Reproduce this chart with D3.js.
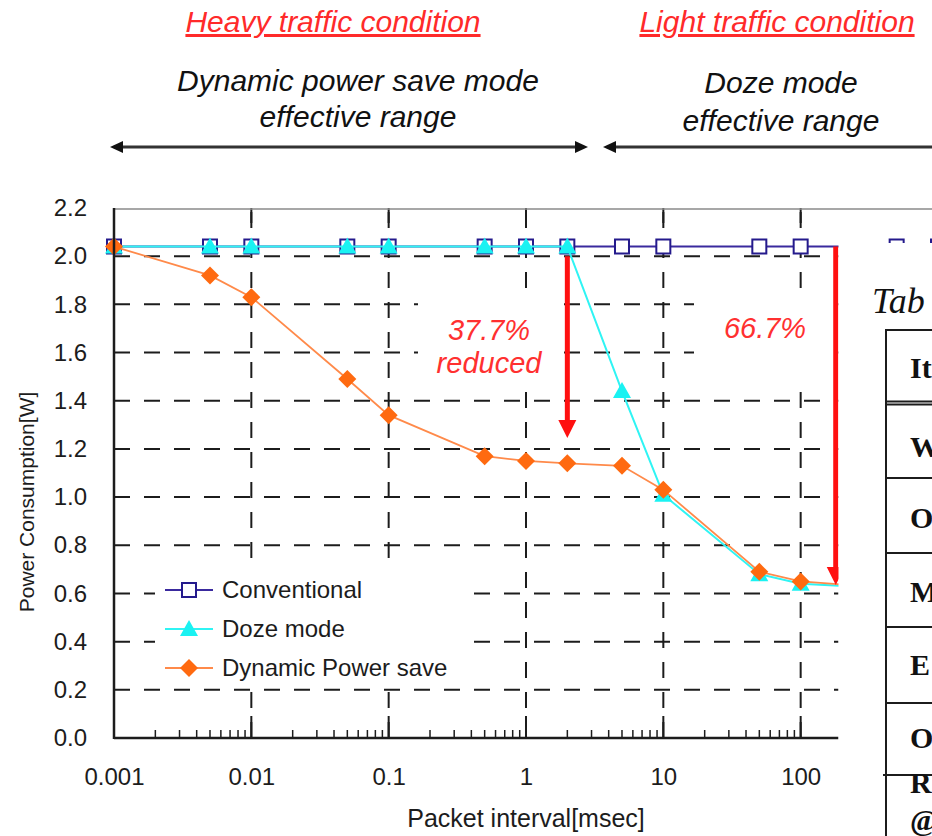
<!DOCTYPE html>
<html>
<head>
<meta charset="utf-8">
<script src="https://cdn.jsdelivr.net/npm/d3@7"></script>
<style>
  html, body { margin: 0; padding: 0; background: #fff; }
  svg { display: block; }
</style>
</head>
<body>
<div id="chart"></div>
<script>
// Data
const packetIntervals = [0.001, 0.005, 0.01, 0.05, 0.1, 0.5, 1, 2, 5, 10, 50, 100, 500, 1000];
const conventional = [2.04, 2.04, 2.04, 2.04, 2.04, 2.04, 2.04, 2.04, 2.04, 2.04, 2.04, 2.04, 2.04, 2.04];
const dozeMode = [2.04, 2.04, 2.04, 2.04, 2.04, 2.04, 2.04, 2.04, 1.44, 1.01, 0.68, 0.64, 0.62, 0.62];
const dynamicPowerSave = [2.04, 1.92, 1.83, 1.49, 1.34, 1.17, 1.15, 1.14, 1.13, 1.03, 0.69, 0.65, 0.62, 0.62];

const seriesNames = ['Conventional', 'Doze mode', 'Dynamic Power save'];
const xTickValues = [0.001, 0.01, 0.1, 1, 10, 100];
const xTickLabels = ['0.001', '0.01', '0.1', '1', '10', '100'];
const yTickValues = [0, 0.2, 0.4, 0.6, 0.8, 1.0, 1.2, 1.4, 1.6, 1.8, 2.0, 2.2];

const headers = ['Heavy traffic condition', 'Light traffic condition'];
const rangeLabels = [['Dynamic power save mode', 'effective range'], ['Doze mode', 'effective range']];
const reductions = [['37.7%', 'reduced'], ['66.7%']];
// only the part of the neighbouring table that is visible in the crop
const tableTitle = 'Tab';
const tableRowLabels = ['It', 'W', 'O', 'M', 'E', 'O', 'R', '@'];

const width = 932, height = 836;
const margin = { left: 114, top: 208, bottom: 738 };
const cutX = 838.5; // right part of the figure is covered by the table

const sans = '"Liberation Sans", Arial, sans-serif';
const serif = '"Liberation Serif", "Times New Roman", serif';
const ink = '#1c1c1c';

const svg = d3.select('#chart').append('svg')
  .attr('width', width)
  .attr('height', height)
  .attr('viewBox', `0 0 ${width} ${height}`);

// Scales
const x = d3.scaleLog().domain([0.001, 1000]).range([margin.left, 938]);
const y = d3.scaleLinear().domain([0, 2.2]).range([margin.bottom, margin.top]);

// Headers
const headerX = [333, 777];
headers.forEach((h, i) => {
  svg.append('text')
    .attr('x', headerX[i]).attr('y', 32)
    .attr('text-anchor', 'middle')
    .attr('fill', '#ff2a2a')
    .style('font-family', sans).style('font-style', 'italic')
    .style('font-size', '30px')
    .style('text-decoration', 'underline')
    .text(h);
});

const rangeX = [358, 781];
const rangeY = [[91, 127], [93, 131]];
rangeLabels.forEach((lines, i) => {
  lines.forEach((t, j) => {
    svg.append('text')
      .attr('x', rangeX[i]).attr('y', rangeY[i][j])
      .attr('text-anchor', 'middle')
      .attr('fill', '#111')
      .style('font-family', sans).style('font-style', 'italic')
      .style('font-size', '30px')
      .text(t);
  });
});

// Double arrows
function doubleArrow(x1, x2, yy) {
  const hl = 13, hw = 6;
  svg.append('line')
    .attr('x1', x1 + hl - 2).attr('x2', x2 - hl + 2)
    .attr('y1', yy).attr('y2', yy)
    .attr('stroke', '#333').attr('stroke-width', 3);
  svg.append('path')
    .attr('d', `M${x1},${yy}L${x1 + hl},${yy - hw}L${x1 + hl},${yy + hw}Z`)
    .attr('fill', '#111');
  svg.append('path')
    .attr('d', `M${x2},${yy}L${x2 - hl},${yy - hw}L${x2 - hl},${yy + hw}Z`)
    .attr('fill', '#111');
}
doubleArrow(110, 588, 147);
doubleArrow(603, 945, 147);

// Plot clip
svg.append('defs').append('clipPath').attr('id', 'plot-clip')
  .append('rect')
  .attr('x', margin.left - 10).attr('y', margin.top - 10)
  .attr('width', width - margin.left + 10).attr('height', margin.bottom - margin.top + 20);

const plot = svg.append('g').attr('clip-path', 'url(#plot-clip)');

// Grid
const dash = '16,14';
plot.append('g').selectAll('line')
  .data(yTickValues.filter(d => d > 0 && d < 2.2))
  .join('line')
  .attr('x1', margin.left).attr('x2', cutX)
  .attr('y1', d => y(d)).attr('y2', d => y(d))
  .attr('stroke', ink).attr('stroke-width', 2)
  .attr('stroke-dasharray', dash);

plot.append('g').selectAll('line')
  .data(xTickValues.slice(1))
  .join('line')
  .attr('x1', d => x(d)).attr('x2', d => x(d))
  .attr('y1', margin.bottom).attr('y2', margin.top)
  .attr('stroke', ink).attr('stroke-width', 2)
  .attr('stroke-dasharray', dash);

// White boxes behind the reduction labels
const reductionAt = [[2, 489], [180, 765]];
reductionAt.forEach(([, cx]) => {
  plot.append('rect')
    .attr('x', cx - 71).attr('y', 299)
    .attr('width', 142).attr('height', 90)
    .attr('fill', '#fff');
});

// Axes
const xAxis = d3.axisBottom(x).tickValues(xTickValues).tickFormat((d, i) => xTickLabels[i]).tickSize(0).tickPadding(0);
const xAxisG = svg.append('g')
  .attr('transform', `translate(0,${margin.bottom})`)
  .call(xAxis);
xAxisG.select('.domain').remove();
xAxisG.selectAll('text')
  .attr('y', 47)
  .attr('dy', null)
  .attr('fill', ink)
  .style('font-family', sans).style('font-size', '24px');

const yAxis = d3.axisLeft(y).tickValues(yTickValues).tickFormat(d3.format('.1f')).tickSize(0).tickPadding(27);
const yAxisG = svg.append('g')
  .attr('transform', `translate(${margin.left},0)`)
  .call(yAxis);
yAxisG.select('.domain').remove();
yAxisG.selectAll('text')
  .attr('fill', ink)
  .style('font-family', sans).style('font-size', '24px');

// Minor + major ticks on bottom, major on top
const minorTicks = [];
for (let e = -3; e < 3; e++) {
  for (let m = 2; m <= 9; m++) minorTicks.push(m * Math.pow(10, e));
}
plot.append('g').selectAll('line')
  .data(minorTicks)
  .join('line')
  .attr('x1', d => x(d)).attr('x2', d => x(d))
  .attr('y1', margin.bottom).attr('y2', margin.bottom - 8)
  .attr('stroke', ink).attr('stroke-width', 1.5);
plot.append('g').selectAll('line')
  .data(xTickValues.slice(1))
  .join('line')
  .attr('x1', d => x(d)).attr('x2', d => x(d))
  .attr('y1', margin.bottom).attr('y2', margin.bottom - 22)
  .attr('stroke', ink).attr('stroke-width', 2);
plot.append('g').selectAll('line')
  .data(xTickValues.slice(1))
  .join('line')
  .attr('x1', d => x(d)).attr('x2', d => x(d))
  .attr('y1', margin.top).attr('y2', margin.top + 15)
  .attr('stroke', ink).attr('stroke-width', 2);

// Frame
svg.append('line')
  .attr('x1', margin.left).attr('x2', width)
  .attr('y1', margin.top + 1).attr('y2', margin.top + 1)
  .attr('stroke', '#8a8a8a').attr('stroke-width', 1.5);
svg.append('line')
  .attr('x1', margin.left).attr('x2', cutX)
  .attr('y1', margin.bottom).attr('y2', margin.bottom)
  .attr('stroke', ink).attr('stroke-width', 2.5);
svg.append('line')
  .attr('x1', margin.left).attr('x2', margin.left)
  .attr('y1', margin.top).attr('y2', margin.bottom + 1)
  .attr('stroke', ink).attr('stroke-width', 2.5);

// Series
const series = [
  { name: seriesNames[0], values: conventional, line: '#3a2a9e', stroke: '#241a8c', fill: '#fff', shape: 'square', width: 2 },
  { name: seriesNames[1], values: dozeMode, line: '#2ff4f4', stroke: 'none', fill: '#1af2f2', shape: 'triangle', width: 2 },
  { name: seriesNames[2], values: dynamicPowerSave, line: '#ff8a4a', stroke: 'none', fill: '#ff6a10', shape: 'diamond', width: 1.8 }
];

function markerPath(shape) {
  if (shape === 'square') return 'M-7,-7H7V7H-7Z';
  if (shape === 'triangle') return 'M0,-9L9,7H-9Z';
  return 'M0,-9L9,0L0,9L-9,0Z';
}

const line = d3.line().x(d => x(d[0])).y(d => y(d[1]));

series.forEach(s => {
  const pts = packetIntervals.map((p, i) => [p, s.values[i]]);
  const g = plot.append('g');
  g.append('path')
    .attr('d', line(pts))
    .attr('fill', 'none')
    .attr('stroke', s.line)
    .attr('stroke-width', s.width);
  g.selectAll('path.m')
    .data(pts)
    .join('path')
    .attr('class', 'm')
    .attr('transform', d => `translate(${x(d[0])},${y(d[1])})`)
    .attr('d', markerPath(s.shape))
    .attr('fill', s.fill)
    .attr('stroke', s.stroke)
    .attr('stroke-width', 2);
});

// Reduction arrows
const reductionRange = [[2.0, 1.245], [2.04, 0.635]];
function redArrow(px, y1, y2) {
  const hl = 18, hw = 9;
  svg.append('line')
    .attr('x1', px).attr('x2', px)
    .attr('y1', y1).attr('y2', y2 - hl + 2)
    .attr('stroke', '#ff1010').attr('stroke-width', 5);
  svg.append('path')
    .attr('d', `M${px},${y2}L${px - hw},${y2 - hl}L${px + hw},${y2 - hl}Z`)
    .attr('fill', '#ff1010');
}
redArrow(x(reductionAt[0][0]), y(reductionRange[0][0]), y(reductionRange[0][1]));
redArrow(x(reductionAt[1][0]), y(reductionRange[1][0]), y(reductionRange[1][1]));

// Reduction labels
const reductionY = [[340, 373], [338]];
reductions.forEach((lines, i) => {
  lines.forEach((t, j) => {
    svg.append('text')
      .attr('x', reductionAt[i][1]).attr('y', reductionY[i][j])
      .attr('text-anchor', 'middle')
      .attr('fill', '#ff3030')
      .style('font-family', sans).style('font-style', 'italic')
      .style('font-size', '29px')
      .text(t);
  });
});

// Legend
svg.append('rect')
  .attr('x', 155).attr('y', 568).attr('width', 318).attr('height', 120)
  .attr('fill', '#fff');
const legend = svg.append('g');
series.forEach((s, i) => {
  const cy = 590 + i * 39;
  legend.append('line')
    .attr('x1', 165).attr('x2', 213)
    .attr('y1', cy).attr('y2', cy)
    .attr('stroke', s.line).attr('stroke-width', s.width);
  legend.append('path')
    .attr('transform', `translate(189,${cy})`)
    .attr('d', markerPath(s.shape))
    .attr('fill', s.fill)
    .attr('stroke', s.stroke)
    .attr('stroke-width', 2);
  legend.append('text')
    .attr('x', 222).attr('y', cy + 8)
    .attr('fill', ink)
    .style('font-family', sans).style('font-size', '24px')
    .text(s.name);
});

// Axis titles
svg.append('text')
  .attr('x', 526).attr('y', 827)
  .attr('text-anchor', 'middle')
  .attr('fill', ink)
  .style('font-family', sans).style('font-size', '25px')
  .text('Packet interval[msec]');
svg.append('text')
  .attr('transform', 'translate(34,502) rotate(-90)')
  .attr('text-anchor', 'middle')
  .attr('fill', ink)
  .style('font-family', sans).style('font-size', '21px')
  .text('Power Consumption[W]');

// Table on the right covering the rest of the figure
svg.append('rect')
  .attr('x', cutX).attr('y', 243)
  .attr('width', width - cutX).attr('height', height - 243)
  .attr('fill', '#fff');

svg.append('text')
  .attr('x', 872).attr('y', 313)
  .attr('fill', '#111')
  .style('font-family', serif).style('font-style', 'italic')
  .style('font-size', '36px')
  .text(tableTitle);

const rowLines = [330, 401.5, 404.5, 478, 553, 627, 703, 775];
svg.append('g').selectAll('line')
  .data(rowLines)
  .join('line')
  .attr('x1', (d, i) => i === rowLines.length - 1 ? 883 : 886).attr('x2', width)
  .attr('y1', d => d).attr('y2', d => d)
  .attr('stroke', ink).attr('stroke-width', 1.8);
svg.append('line')
  .attr('x1', 886).attr('x2', 886)
  .attr('y1', 329).attr('y2', height)
  .attr('stroke', ink).attr('stroke-width', 2);

const rowBaselines = [378, 457, 528, 602, 675, 748, 793, 830];
tableRowLabels.forEach((t, i) => {
  svg.append('text')
    .attr('x', 910).attr('y', rowBaselines[i])
    .attr('fill', '#111')
    .style('font-family', serif).style('font-weight', 'bold')
    .style('font-size', '30px')
    .text(t);
});
</script>
</body>
</html>
